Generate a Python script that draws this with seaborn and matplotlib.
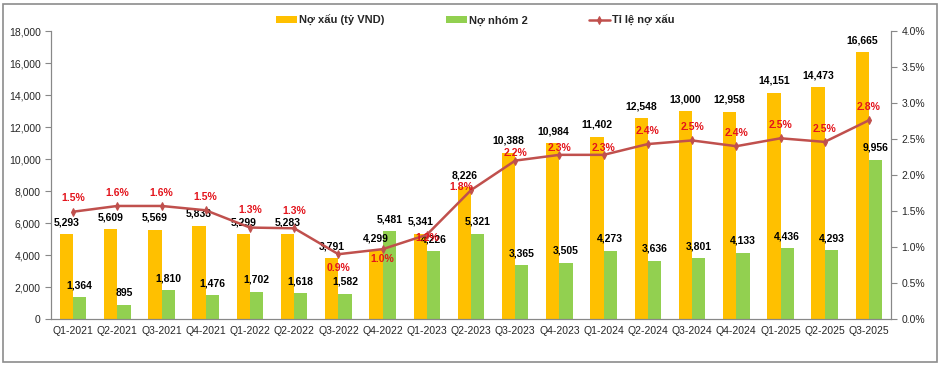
import numpy as np
import pandas as pd
import seaborn as sns
import matplotlib.pyplot as plt
from matplotlib.patches import Rectangle
from matplotlib.ticker import FuncFormatter, MultipleLocator, FixedLocator

# data
quarters = ["Q1-2021", "Q2-2021", "Q3-2021", "Q4-2021", "Q1-2022", "Q2-2022", "Q3-2022",
            "Q4-2022", "Q1-2023", "Q2-2023", "Q3-2023", "Q4-2023", "Q1-2024", "Q2-2024",
            "Q3-2024", "Q4-2024", "Q1-2025", "Q2-2025", "Q3-2025"]
no_xau = [5293, 5609, 5569, 5833, 5299, 5283, 3791, 4299, 5341, 8226, 10388, 10984,
          11402, 12548, 13000, 12958, 14151, 14473, 16665]
no_nhom2 = [1364, 895, 1810, 1476, 1702, 1618, 1582, 5481, 4226, 5321, 3365, 3505,
            4273, 3636, 3801, 4133, 4436, 4293, 9956]
ti_le = [1.49, 1.57, 1.57, 1.51, 1.27, 1.26, 0.90, 0.97, 1.17, 1.79, 2.20, 2.28,
         2.28, 2.43, 2.48, 2.40, 2.51, 2.46, 2.76]

lbl_xau = "Nợ xấu (tỷ VND)"
lbl_n2 = "Nợ nhóm 2"
lbl_tl = "Tỉ lệ nợ xấu"

sns.set_style("white")
plt.rcParams['font.family'] = ['Liberation Sans', 'DejaVu Sans']

df = pd.DataFrame({"quarter": quarters * 2,
                   "value": no_xau + no_nhom2,
                   "series": [lbl_xau] * len(quarters) + [lbl_n2] * len(quarters)})

fig = plt.figure(figsize=(9.41, 3.66), dpi=100)
ax = fig.add_axes([0.0542, 0.1284, 0.8927, 0.7869])

sns.barplot(data=df, x="quarter", y="value", hue="series", ax=ax,
            palette=["#FFC000", "#92D050"], width=0.6, gap=0, saturation=1,
            edgecolor="none")

# value labels on bars
for cont in ax.containers:
    ax.bar_label(cont, labels=[f"{v:,.0f}" for v in cont.datavalues], padding=5,
                 fontsize=7.5, fontweight="bold", color="black")

ax.set_ylim(0, 18000)
ax.set_xlim(-0.5, len(quarters) - 0.5)
ax.yaxis.set_major_locator(MultipleLocator(2000))
ax.yaxis.set_major_formatter(FuncFormatter(lambda v, p: f"{v:,.0f}"))
ax.set_xlabel("")
ax.set_ylabel("")
ax.xaxis.set_minor_locator(FixedLocator(np.arange(-0.5, len(quarters), 1)))
ax.tick_params(axis="x", which="major", length=0, labelsize=7.5, pad=5)
ax.tick_params(axis="x", which="minor", length=4, color="#888888")
ax.tick_params(axis="y", length=4, color="#888888", labelsize=7.5, left=True)
ax.legend_.remove()

# ratio line on the secondary axis
ax2 = ax.twinx()
sns.lineplot(x=quarters, y=ti_le, ax=ax2, color="#C0504D", linewidth=1.8,
             marker="d", markersize=4, markeredgecolor="#C0504D", sort=False,
             label=lbl_tl)
# label offsets (points) where Excel moved them
offs = {4: (0, 9), 5: (0, 9), 6: (0, -13.5), 7: (0, -11), 8: (0, -6),
        9: (-7, -1), 10: (0, 2), 11: (0, 1), 12: (0, 1)}
for i, v in enumerate(ti_le):
    ax2.annotate(f"{v:.1f}%", (i, v), xytext=offs.get(i, (0, 6)),
                 textcoords="offset points", ha="center", va="bottom",
                 fontsize=7.5, fontweight="bold", color="#E3141C")
ax2.set_ylim(0, 4)
ax2.yaxis.set_major_locator(MultipleLocator(0.5))
ax2.yaxis.set_major_formatter(FuncFormatter(lambda v, p: f"{v:.1f}%"))
ax2.tick_params(axis="y", length=4, color="#888888", labelsize=7.5, right=True)
ax2.set_ylabel("")
ax2.legend_.remove()

for a in (ax, ax2):
    a.spines["top"].set_visible(False)
    for s in ("left", "right", "bottom"):
        a.spines[s].set_color("#888888")
        a.spines[s].set_linewidth(0.8)

# legend on top
h1, l1 = ax.get_legend_handles_labels()
h2, l2 = ax2.get_legend_handles_labels()
fig.legend(h1 + h2, l1 + l2, loc="center", bbox_to_anchor=(0.505, 0.945), ncol=3,
           frameon=False, prop={"weight": "bold", "size": 8}, columnspacing=5.5,
           handlelength=1.9, handleheight=0.6, handletextpad=0.2)

# outer frame
fig.patches.append(Rectangle((0.003, 0.01), 0.993, 0.98, transform=fig.transFigure,
                             fill=False, edgecolor="#8c8c8c", linewidth=1.2))

fig.savefig("out.png", dpi=100)
